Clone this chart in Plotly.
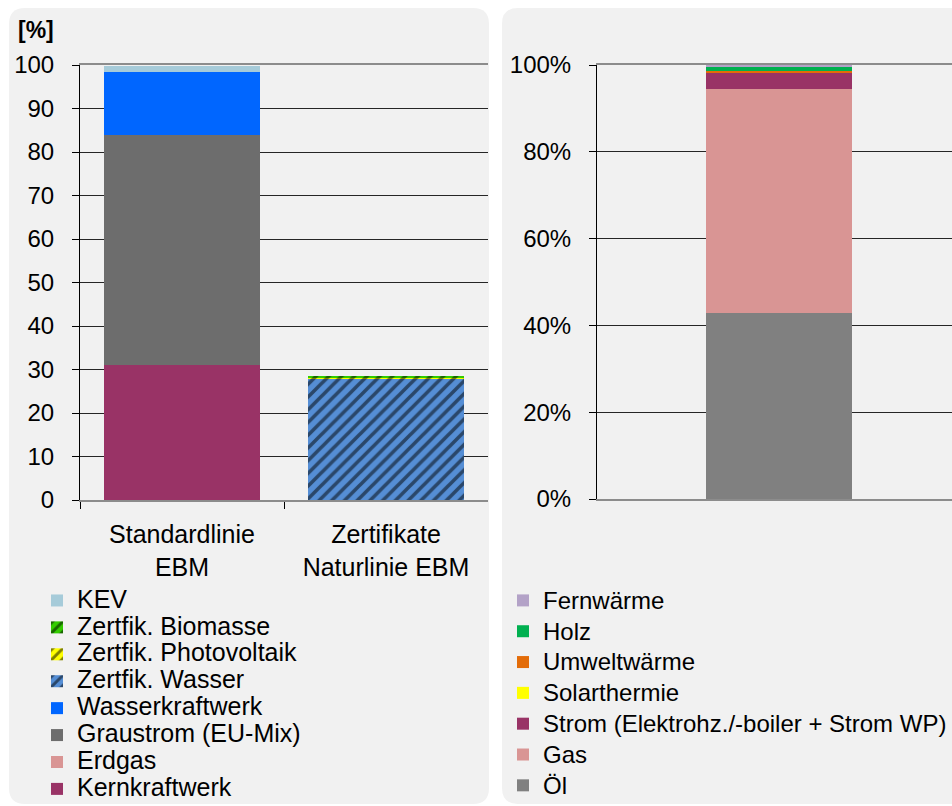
"""Strommix (links) und Heizenergie-Mix (rechts) als gestapelte Balken."""

import plotly.graph_objects as go

W, H = 952, 806

# --- Daten links: Strommix [%]
strom_categories = ["Standardlinie<br>EBM", "Zertifikate<br>Naturlinie EBM"]
kernkraftwerk = [31.0, 0.0]
erdgas = [0.0, 0.0]
graustrom = [52.9, 0.0]
wasserkraftwerk = [14.4, 0.0]
zertifik_wasser = [0.0, 28.0]
zertifik_photovoltaik = [0.0, 0.2]
zertifik_biomasse = [0.0, 0.2]
kev = [1.5, 0.0]

# --- Daten rechts: Heizenergie [%]
heiz_categories = ["Heizenergie"]
oel = [42.9]
gas = [51.6]
strom_heiz = [3.8]
solarthermie = [0.0]
umweltwaerme = [0.4]
holz = [0.9]
fernwaerme = [0.4]

FONT = "Arial, Liberation Sans, sans-serif"


def px_x(x):
    return x / W


def px_y(y):
    return 1 - y / H


def rounded_rect(x0, y0, x1, y1, r):
    # path in paper coords built from pixel corners
    rx, ry = r / W, r / H
    a, b, c, d = px_x(x0), px_y(y0), px_x(x1), px_y(y1)
    return (
        f"M{a + rx},{b} L{c - rx},{b} Q{c},{b} {c},{b - ry} "
        f"L{c},{d + ry} Q{c},{d} {c - rx},{d} L{a + rx},{d} "
        f"Q{a},{d} {a},{d + ry} L{a},{b - ry} Q{a},{b} {a + rx},{b} Z"
    )


def big(label, size):
    # legend rows are packed tighter than the text size would allow
    return f'<span style="font-size:{size}px">{label}</span>'


fig = go.Figure()

left_series = [
    ("Kernkraftwerk", kernkraftwerk, "#993366", None),
    ("Erdgas", erdgas, "#d99594", None),
    ("Graustrom (EU-Mix)", graustrom, "#6d6d6d", None),
    ("Wasserkraftwerk", wasserkraftwerk, "#0066ff", None),
    ("Zertfik. Wasser", zertifik_wasser, "#558ed5", "/"),
    ("Zertfik. Photovoltaik", zertifik_photovoltaik, "#ffff00", "/"),
    ("Zertfik. Biomasse", zertifik_biomasse, "#33cc00", "/"),
    ("KEV", kev, "#a6cbd9", None),
]
for name, vals, color, shape in left_series:
    marker = dict(color=color, line=dict(width=0))
    if shape:
        marker["pattern"] = dict(shape=shape, fgcolor="black", size=9, solidity=0.4)
    fig.add_trace(
        go.Bar(
            x=strom_categories, y=vals, name=big(name, 25), marker=marker,
            width=0.76, xaxis="x", yaxis="y", legend="legend",
        )
    )

right_series = [
    ("Öl", oel, "#808080"),
    ("Gas", gas, "#d99594"),
    ("Strom (Elektrohz./-boiler + Strom WP)", strom_heiz, "#993366"),
    ("Solarthermie", solarthermie, "#ffff00"),
    ("Umweltwärme", umweltwaerme, "#e36c09"),
    ("Holz", holz, "#00b050"),
    ("Fernwärme", fernwaerme, "#b3a2c7"),
]
for name, vals, color in right_series:
    fig.add_trace(
        go.Bar(
            x=heiz_categories, y=vals, name=big(name, 24),
            marker=dict(color=color, line=dict(width=0)),
            width=0.40, xaxis="x2", yaxis="y2", legend="legend2",
        )
    )

axis_font = dict(family=FONT, size=24, color="black")

fig.update_layout(
    width=W,
    height=H,
    autosize=False,
    margin=dict(l=0, r=0, t=0, b=0, autoexpand=False),
    paper_bgcolor="white",
    plot_bgcolor="rgba(0,0,0,0)",
    barmode="stack",
    font=dict(family=FONT, size=24, color="black"),
    xaxis=dict(
        domain=[px_x(80), px_x(488)],
        anchor="y",
        automargin=False,
        tickfont=dict(family=FONT, size=25, color="black"),
        tickson="boundaries",
        ticks="outside",
        ticklen=7,
        tickcolor="black",
        showline=True,
        mirror=True,
        linecolor="#8c8c8c",
        linewidth=2,
        showgrid=False,
        ticklabelstandoff=11,
    ),
    yaxis=dict(
        domain=[px_y(500), px_y(65)],
        anchor="x",
        automargin=False,
        range=[0, 100],
        dtick=10,
        tickfont=axis_font,
        ticks="outside",
        ticklen=7,
        tickcolor="black",
        showline=True,
        linecolor="black",
        linewidth=1,
        showgrid=True,
        gridcolor="#262626",
        gridwidth=1,
        zeroline=False,
        ticklabelstandoff=13,
    ),
    xaxis2=dict(
        domain=[px_x(597), 1.0],
        anchor="y2",
        automargin=False,
        range=[-0.5, 0.475],
        showticklabels=False,
        ticks="",
        showline=True,
        mirror=True,
        linecolor="#8c8c8c",
        linewidth=2,
        showgrid=False,
    ),
    yaxis2=dict(
        domain=[px_y(499), px_y(65)],
        anchor="x2",
        automargin=False,
        range=[0, 100],
        dtick=20,
        ticksuffix="%",
        tickfont=axis_font,
        ticks="outside",
        ticklen=7,
        tickcolor="black",
        showline=True,
        linecolor="black",
        linewidth=1,
        showgrid=True,
        gridcolor="#262626",
        gridwidth=1,
        zeroline=False,
        ticklabelstandoff=13,
    ),
    legend=dict(
        x=px_x(37), y=px_y(582), xanchor="left", yanchor="top",
        traceorder="reversed", bgcolor="rgba(0,0,0,0)",
        font=dict(family=FONT, size=18.4, color="black"),
        tracegroupgap=0,
    ),
    legend2=dict(
        x=px_x(503), y=px_y(580), xanchor="left", yanchor="top",
        traceorder="reversed", bgcolor="rgba(0,0,0,0)",
        font=dict(family=FONT, size=21.4, color="black"),
        tracegroupgap=0,
    ),
    shapes=[
        dict(type="path", xref="paper", yref="paper", layer="below",
             path=rounded_rect(9, 8, 489, 804, 16),
             fillcolor="#f1f1f1", line=dict(width=0)),
        dict(type="path", xref="paper", yref="paper", layer="below",
             path=rounded_rect(502, 8, 975, 804, 16),
             fillcolor="#f1f1f1", line=dict(width=0)),
    ],
    annotations=[
        dict(text="<b>[%]</b>", xref="paper", yref="paper",
             x=px_x(16), y=px_y(30), xanchor="left", yanchor="middle",
             showarrow=False, font=dict(family=FONT, size=23, color="black")),
    ],
)

fig.write_html(
    "out.html",
    config={"displayModeBar": False},
    default_width=f"{W}px",
    default_height=f"{H}px",
    post_script="document.body.style.margin='0';",
)
